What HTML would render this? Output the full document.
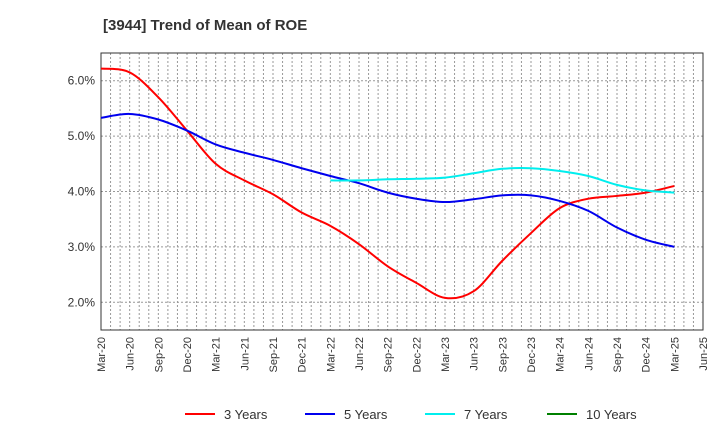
<!DOCTYPE html>
<html><head><meta charset="utf-8"><style>
body{margin:0;background:#fff;font-family:"Liberation Sans",sans-serif;}
svg text{font-family:"Liberation Sans",sans-serif;fill:#333;}
</style></head><body>
<svg width="720" height="440" id="c">
<text x="103" y="30" font-size="15" font-weight="bold">[3944]  Trend of Mean of ROE</text>
<g id="grid"></g>
<rect x="101" y="53" width="602" height="277" fill="none" stroke="#333" stroke-width="1"/>
<g id="ax"></g><g id="series"></g><g id="legend"></g>
</svg>
<script>
const xLabels=["Mar-20","Jun-20","Sep-20","Dec-20","Mar-21","Jun-21","Sep-21","Dec-21","Mar-22","Jun-22","Sep-22","Dec-22","Mar-23","Jun-23","Sep-23","Dec-23","Mar-24","Jun-24","Sep-24","Dec-24","Mar-25","Jun-25"];
const yTicks=[2,3,4,5,6];
const y3=[6.22,6.15,5.7,5.1,4.5,4.2,3.95,3.62,3.38,3.05,2.65,2.35,2.08,2.2,2.75,3.25,3.7,3.87,3.92,3.98,4.1];
const y5=[5.33,5.4,5.3,5.1,4.85,4.7,4.57,4.42,4.28,4.15,3.98,3.87,3.81,3.86,3.93,3.93,3.83,3.65,3.35,3.13,3.0];
const y7=[null,null,null,null,null,null,null,null,4.2,4.2,4.22,4.23,4.25,4.33,4.41,4.42,4.37,4.28,4.12,4.02,3.98];
const y10=[];
const X0=101,X1=703,Y0=330,Y1=53;
const xs=i=>X0+i*(X1-X0)/21;
const ys=v=>Y0-(v-1.5)*(Y0-Y1)/5;
const NS="http://www.w3.org/2000/svg";
function mk(t,a,p){const e=document.createElementNS(NS,t);for(const k in a)e.setAttribute(k,a[k]);p.appendChild(e);return e;}
const g=document.getElementById('grid'),ax=document.getElementById('ax');
for(let m=1;m<63;m++){const x=X0+m*(X1-X0)/63;const l=mk('line',{x1:x,x2:x,y1:Y1,y2:Y0,stroke:'#999','stroke-dasharray':'2,2','stroke-width':1},g);

}
yTicks.forEach(v=>{const y=ys(v);const l=mk('line',{x1:X0,x2:X1,y1:y,y2:y,stroke:'#999','stroke-dasharray':'2,2'},g);


const t=mk('text',{x:X0-6,y:y+4,'font-size':12,'text-anchor':'end'},ax);t.textContent=v.toFixed(1)+'%';

});
xLabels.forEach((s,i)=>{const x=xs(i);const t=mk('text',{x:0,y:0,'font-size':11,'text-anchor':'end',transform:`translate(${x+4},337) rotate(-90)`},ax);t.textContent=s;

});
function path(arr){const p=[];arr.forEach((v,i)=>{if(v!=null)p.push([xs(i),ys(v)]);});if(p.length<2)return '';
let d=`M${p[0][0]},${p[0][1]}`;for(let i=0;i<p.length-1;i++){const a=p[i-1]||p[i],b=p[i],c=p[i+1],e=p[i+2]||c;
d+=`C${b[0]+(c[0]-a[0])/6},${b[1]+(c[1]-a[1])/6} ${c[0]-(e[0]-b[0])/6},${c[1]-(e[1]-b[1])/6} ${c[0]},${c[1]}`;}return d;}
const S=document.getElementById('series');
[[y3,'#ff0000','series-3-years'],[y5,'#0000ee','series-5-years'],[y7,'#00eeee','series-7-years'],[y10,'#008000','series-10-years']].forEach(([a,c,n])=>{const d=path(a);if(!d)return;
const e=mk('path',{d:d,fill:'none',stroke:c,'stroke-width':2},S);

});
const L=document.getElementById('legend');
[['3 Years','#ff0000',185],['5 Years','#0000ee',305],['7 Years','#00eeee',425],['10 Years','#008000',547]].forEach(([s,c,x])=>{
const l=mk('line',{x1:x,x2:x+30,y1:414,y2:414,stroke:c,'stroke-width':2},L);


const t=mk('text',{x:x+39,y:419,'font-size':13},L);t.textContent=s;

});
</script>
</body></html>
